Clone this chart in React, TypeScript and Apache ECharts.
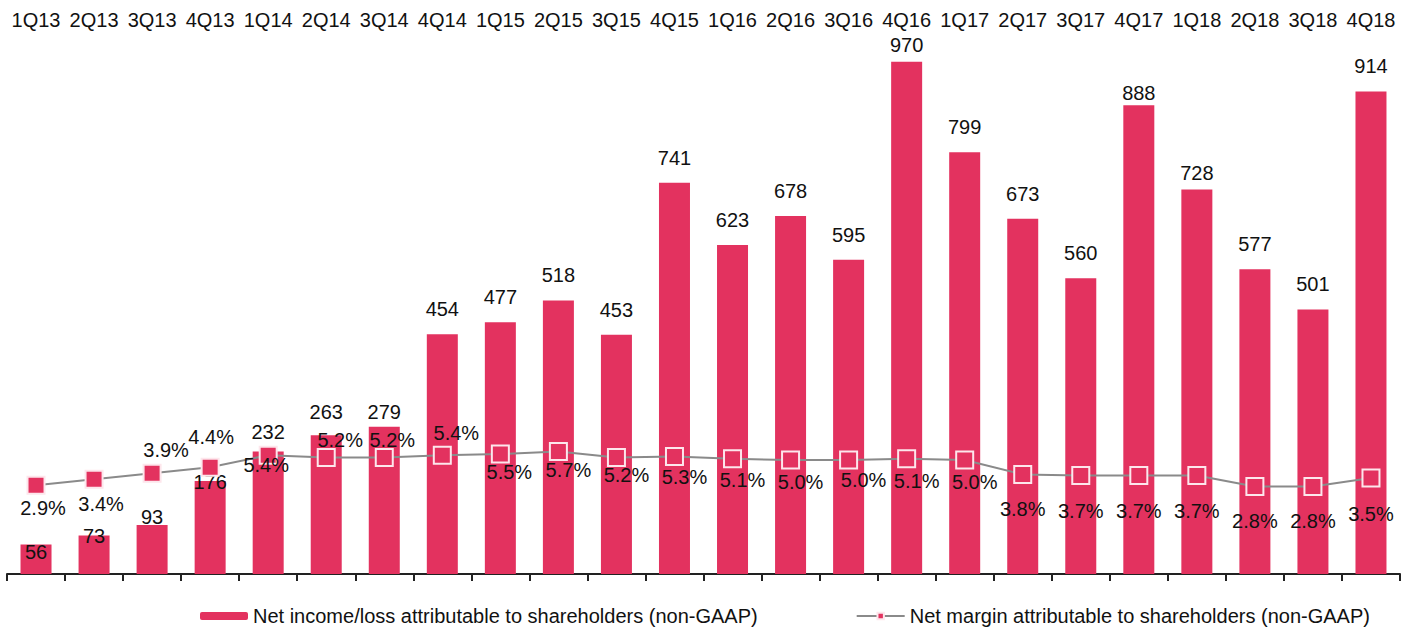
import React, { useEffect, useRef } from "react";
import * as echarts from "echarts";

const categories = [
  "1Q13", "2Q13", "3Q13", "4Q13", "1Q14", "2Q14", "3Q14", "4Q14",
  "1Q15", "2Q15", "3Q15", "4Q15", "1Q16", "2Q16", "3Q16", "4Q16",
  "1Q17", "2Q17", "3Q17", "4Q17", "1Q18", "2Q18", "3Q18", "4Q18",
];

const netIncome = [
  56, 73, 93, 176, 232, 263, 279, 454,
  477, 518, 453, 741, 623, 678, 595, 970,
  799, 673, 560, 888, 728, 577, 501, 914,
];

const netMargin = [
  2.9, 3.4, 3.9, 4.4, 5.4, 5.2, 5.2, 5.4,
  5.5, 5.7, 5.2, 5.3, 5.1, 5.0, 5.0, 5.1,
  5.0, 3.8, 3.7, 3.7, 3.7, 2.8, 2.8, 3.5,
];

const barName = "Net income/loss attributable to shareholders (non-GAAP)";
const lineName = "Net margin attributable to shareholders (non-GAAP)";

// label layout (offsets in px), not data
const barLabelShift = [
  33, 26, 17, 26, 5, 2, 10, 0,
  0, 0, 0, 0, 0, 0, 0, 8,
  0, 0, 0, 13, 8, 0, 0, 0,
];
const lineLabelOffset: [number, number][] = [
  [7, 23], [7, 25], [14, -23], [1, -30], [-2, 10], [14, -18], [8, -18], [14, -22],
  [9, 18], [10, 18], [10, 17], [10, 21], [10, 21], [10, 22], [15, 20], [10, 22],
  [10, 22], [0, 35], [0, 35], [0, 35], [0, 35], [0, 35], [0, 35], [0, 36],
];

const PINK = "#E3325F";
const FONT = "'Liberation Sans', Arial, sans-serif";
const FS = 20;

export default function App() {
  const ref = useRef<HTMLDivElement>(null);

  useEffect(() => {
    document.body.style.margin = "0";
    if (!ref.current) return;
    const chart = echarts.init(ref.current, undefined, { renderer: "svg" });

    chart.setOption({
      animation: false,
      textStyle: { fontFamily: FONT },
      grid: { left: 7, right: 1, top: 46, bottom: 55, containLabel: false },
      legend: {
        top: 601,
        left: 195,
        itemWidth: 48,
        itemHeight: 8,
        itemGap: 98,
        textStyle: { fontSize: FS, color: "#111", fontFamily: FONT },
        data: [barName, lineName],
      },
      xAxis: [
        {
          type: "category",
          data: categories,
          position: "bottom",
          axisLine: { show: true, lineStyle: { color: "#222", width: 2 } },
          axisTick: { show: true, length: 7, lineStyle: { color: "#222", width: 2 } },
          axisLabel: { show: false },
        },
        {
          type: "category",
          data: categories,
          position: "top",
          axisLine: { show: false },
          axisTick: { show: false },
          axisLabel: {
            show: true,
            interval: 0,
            hideOverlap: false,
            margin: 16,
            fontSize: FS,
            color: "#111",
            fontFamily: FONT,
          },
        },
      ],
      yAxis: [
        { type: "value", min: 0, max: 1000, show: false, splitLine: { show: false } },
        { type: "value", min: -4.5, max: 39.5, show: false, splitLine: { show: false } },
      ],
      series: [
        {
          name: barName,
          type: "bar",
          xAxisIndex: 0,
          yAxisIndex: 0,
          barWidth: 31,
          itemStyle: { color: PINK },
          data: netIncome.map((v, i) => ({
            value: v,
            label: {
              show: true,
              position: "top",
              distance: 15,
              offset: [0, barLabelShift[i]],
              fontSize: FS,
              color: "#111",
              fontFamily: FONT,
            },
          })),
        },
        {
          name: lineName,
          type: "line",
          xAxisIndex: 0,
          yAxisIndex: 1,
          symbol: "rect",
          symbolSize: 17,
          lineStyle: { color: "#8a8a8a", width: 2 },
          itemStyle: { color: PINK, borderColor: "#fde6ec", borderWidth: 2 },
          z: 5,
          data: netMargin.map((v, i) => ({
            value: v,
            label: {
              show: true,
              position: "inside",
              offset: lineLabelOffset[i],
              formatter: (p: any) => Number(p.value).toFixed(1) + "%",
              fontSize: FS,
              color: "#111",
              fontFamily: FONT,
            },
          })),
        },
      ],
    });

    return () => chart.dispose();
  }, []);

  return <div ref={ref} style={{ width: 1401, height: 629 }} />;
}
